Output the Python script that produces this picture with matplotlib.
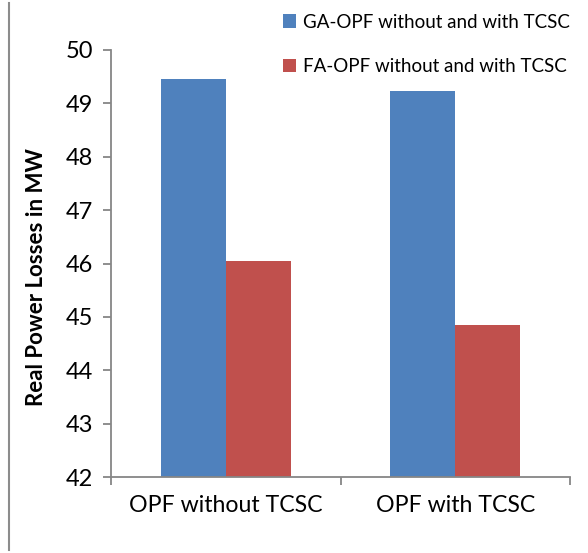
import matplotlib
matplotlib.use("Agg")
import matplotlib.pyplot as plt
import numpy as np
from matplotlib.lines import Line2D

categories = ["OPF without TCSC", "OPF with TCSC"]
series_names = ["GA-OPF without and with TCSC", "FA-OPF without and with TCSC"]
ga_losses = [49.45, 49.23]
fa_losses = [46.05, 44.84]
y_ticks = [42, 43, 44, 45, 46, 47, 48, 49, 50]

plt.rcParams['font.family'] = ['Lato', 'DejaVu Sans']

W, H = 588, 553
fig = plt.figure(figsize=(W / 100, H / 100), dpi=100)
ax = fig.add_axes([111 / W, 1 - 477 / H, (570 - 111) / W, (477 - 50) / H])

blue = "#4F81BD"
red = "#C0504D"
axis_gray = "#868686"

x = np.arange(len(categories))
bw = 0.283
b1 = ax.bar(x - bw / 2, ga_losses, width=bw, color=blue, label=series_names[0], zorder=2)
b2 = ax.bar(x + bw / 2, fa_losses, width=bw, color=red, label=series_names[1], zorder=2)

ax.set_ylim(42, 50)
ax.set_xlim(-0.5, len(categories) - 0.5)
ax.set_yticks(y_ticks)
ax.set_yticklabels([str(v) for v in y_ticks], fontsize=17)

# category labels centered, tick marks at category boundaries
ax.set_xticks(x)
ax.set_xticklabels(categories, fontsize=16.7)
ax.tick_params(axis='x', length=0, pad=13)
ax.set_xticks(np.arange(len(categories) + 1) - 0.5, minor=True)
ax.tick_params(axis='x', which='minor', length=6, color=axis_gray, width=1.3, direction='out')
ax.tick_params(axis='y', length=6, color=axis_gray, width=1.3, direction='out', pad=7)

for side in ['top', 'right']:
    ax.spines[side].set_visible(False)
for side in ['left', 'bottom']:
    ax.spines[side].set_color(axis_gray)
    ax.spines[side].set_linewidth(1.3)

fig.text(37 / W, 1 - 277 / H, "Real Power Losses in MW", rotation=90,
         ha='center', va='center', fontsize=16, fontweight='bold')

leg = fig.legend(handles=[b1, b2], loc='upper left', bbox_to_anchor=(275 / W, 1 - 6 / H),
                 frameon=False, fontsize=13.5, handlelength=0.7, handleheight=0.7,
                 handletextpad=0.4, labelspacing=1.45, borderaxespad=0)

# thin border line at the left edge
fig.add_artist(Line2D([9 / W, 9 / W], [1 - 3 / H, 1 - 550 / H], color="#8c8c8c",
                      linewidth=1.5, transform=fig.transFigure))

fig.savefig("out.png", dpi=100)
